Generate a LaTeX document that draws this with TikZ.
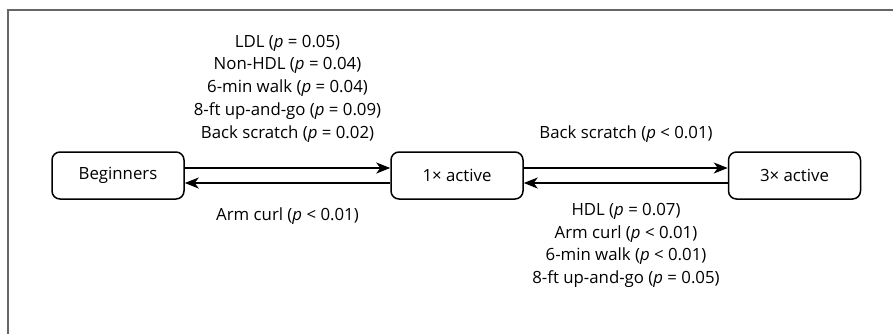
\documentclass[tikz,border=0pt]{standalone}
\usepackage{fontspec}
\setmainfont{Open Sans}
\usetikzlibrary{arrows.meta}
\begin{document}
\begin{tikzpicture}[x=1pt,y=-1pt,
  every node/.style={font=\fontsize{16.8}{22.7}\selectfont},
  state/.style={draw, line width=1.5pt, rounded corners=8pt, minimum width=132pt, minimum height=47pt, inner sep=0pt},
  conn/.style={line width=1.5pt, -{Stealth[length=14pt,width=11pt,inset=4pt]}},
  lbl/.style={align=center, inner sep=0pt}]
\useasboundingbox (0,0) rectangle (893,333);
\draw[gray!80!black, line width=1.3pt] (8,340) -- (8,10) -- (900,10);
\node[state] (beg) at (118,175.5) {Beginners};
\node[state] (one) at (457,175.5) {1\texttimes\ active};
\node[state] (three) at (794.5,175.5) {3\texttimes\ active};
\draw[conn] ([yshift=7.5pt]beg.east) -- ([yshift=7.5pt]one.west);
\draw[conn] ([yshift=-7.5pt]one.west) -- ([yshift=-7.5pt]beg.east);
\draw[conn] ([yshift=7.5pt]one.east) -- ([yshift=7.5pt]three.west);
\draw[conn] ([yshift=-7.5pt]three.west) -- ([yshift=-7.5pt]one.east);
\node[lbl, anchor=base] (t1) at (287.5,138) {LDL (\textit{p} = 0.05)\\Non-HDL (\textit{p} = 0.04)\\6-min walk (\textit{p} = 0.04)\\8-ft up-and-go (\textit{p} = 0.09)\\Back scratch (\textit{p} = 0.02)};
\node[lbl, anchor=base] (b1) at (287.5,220) {Arm curl (\textit{p} < 0.01)};
\node[lbl, anchor=base] (t2) at (626,138) {Back scratch (\textit{p} < 0.01)};
\node[lbl, anchor=north] (b2) at (626,203) {HDL (\textit{p} = 0.07)\\Arm curl (\textit{p} < 0.01)\\6-min walk (\textit{p} < 0.01)\\8-ft up-and-go (\textit{p} = 0.05)};
\end{tikzpicture}
\end{document}
